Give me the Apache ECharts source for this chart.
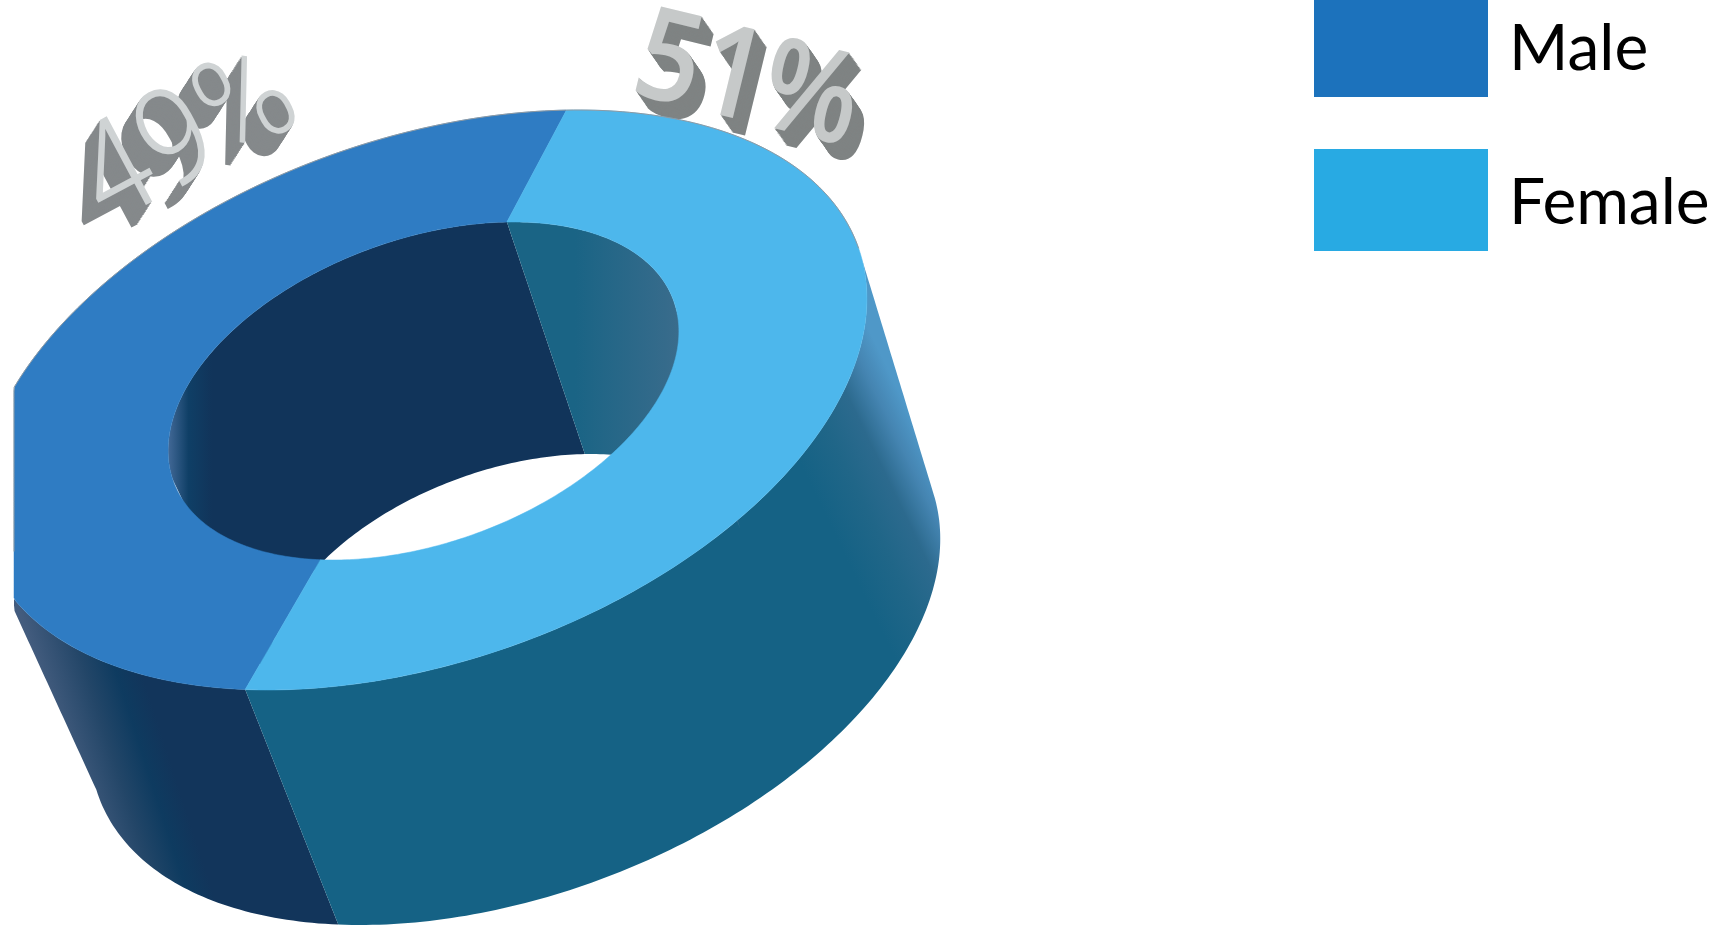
<!DOCTYPE html>
<html>
<head>
<meta charset="utf-8">
<style>html,body{margin:0;padding:0;background:#fff}#chart{width:1721px;height:929px}</style>
<script src="https://cdn.jsdelivr.net/npm/echarts@6/dist/echarts.min.js"></script>
</head>
<body>
<div id="chart"></div>
<script>
// Gender split, in percent
const genders = ['Male', 'Female'];
const shares = [49, 51];
const legendColors = ['#1c72bc', '#28aae3'];
const faceColors = ['#2f7cc3', '#4db7ec'];

// Ellipses of the tilted ring: centre, axis towards angle 0, axis towards angle 90
const outerTop = { c: [423, 400], u: [155, -290], v: [416, 0] };
const outerBottom = { c: [515, 642], u: [155, -283], v: [396, 0] };
const innerTop = { c: [423.5, 391], u: [90, -169], v: [239, 0] };
const innerBottom = { c: [507, 611], u: [84, -157], v: [222, 0] };
// Angles where the walls turn out of sight, and the perspective squeeze of the ring
const silhouette = [58.5, 238.5];
const squeeze = 0.99, squeezeAxis = -90;
const startAngle = -1;
const leftCut = 14;

const rad = Math.PI / 180;
const perspective = a => {
  const rel = a - squeezeAxis;
  const turns = Math.round(rel / 360);
  return squeezeAxis + turns * 360 + 2 * Math.atan(squeeze * Math.tan((rel - turns * 360) / 2 * rad)) / rad;
};
// Slice limits on the ring, clockwise from the seam; Female comes first
const sliceRange = i => {
  const before = i === 1 ? 0 : shares[1];
  const a0 = startAngle + before * 3.6;
  return [perspective(a0), perspective(a0 + shares[i] * 3.6)];
};
const ringPoint = (ring, deg) => {
  const a = deg * rad;
  return [ring.c[0] + ring.u[0] * Math.cos(a) + ring.v[0] * Math.sin(a),
          ring.c[1] + ring.u[1] * Math.cos(a) + ring.v[1] * Math.sin(a)];
};
const toPixel = (p, api) => api.coord([Math.max(p[0], leftCut), p[1]]);
const arc = (ring, a0, a1, api) => {
  const pts = [], n = Math.max(2, Math.ceil(Math.abs(a1 - a0)));
  for (let k = 0; k <= n; k++) pts.push(toPixel(ringPoint(ring, a0 + (a1 - a0) * k / n), api));
  return pts;
};
// Wall between two ellipses; the end edges are subdivided so the left cut stays straight
const wall = (upper, lower, a0, a1, api) => {
  const edge = (deg, from, to) => {
    const p = ringPoint(from, deg), q = ringPoint(to, deg), pts = [];
    for (let k = 1; k < 40; k++) pts.push(toPixel([p[0] + (q[0] - p[0]) * k / 40, p[1] + (q[1] - p[1]) * k / 40], api));
    return pts;
  };
  return arc(upper, a0, a1, api).concat(edge(a1, upper, lower), arc(lower, a1, a0, api), edge(a0, lower, upper));
};
const overlap = (a, b, lo, hi) => {
  const s = Math.max(a, lo), e = Math.min(b, hi);
  return e > s ? [s, e] : null;
};
const gradient = (api, from, to, stops) => {
  const p = api.coord(from), q = api.coord(to);
  return new echarts.graphic.LinearGradient(p[0], p[1], q[0], q[1],
    stops.map(s => ({ offset: s[0], color: s[1] })), true);
};
// Wall shading, light at the turning edge and flat elsewhere
const outerWallFill = (i, api) => i === 1
  ? gradient(api, [468, -227], [576, -279], [[0, '#156285'], [0.33, '#206688'], [0.6, '#2c6a8e'], [0.82, '#4585b2'], [1, '#4f98c8']])
  : gradient(api, [32, 650], [125, 620], [[0, '#435c7e'], [0.45, '#234668'], [0.75, '#0e3b60'], [1, '#12355b']]);
const innerWallFill = (i, api) => i === 1
  ? gradient(api, [575, 0], [680, 0], [[0, '#1a6485'], [1, '#3a6c8c']])
  : gradient(api, [165, 0], [212, 0], [[0, '#4a6f9e'], [0.5, '#0f3f66'], [1, '#11345a']]);

// Raised percent labels: a stack of shifted copies behind a lighter face
const labelStyle = [
  { x: 190, y: 143, rotation: 0.49, scaleX: 0.9, depth: [-26, 13], side: '#85898b', face: '#cfd3d4', font: '300 136px Roboto' },
  { x: 747, y: 84, rotation: -0.24, scaleX: 0.88, depth: [18, 14], side: '#7f8383', face: '#c6c9c9', font: '600 128px "Open Sans"' }
];
const labelParts = i => {
  const s = labelStyle[i], parts = [], steps = 14;
  const base = { text: shares[i] + '%', font: s.font, align: 'center', verticalAlign: 'middle' };
  for (let k = steps; k >= 0; k--) {
    parts.push({
      type: 'text', x: s.depth[0] * k / steps, y: s.depth[1] * k / steps,
      style: Object.assign({}, base, { fill: k === 0 ? s.face : s.side })
    });
  }
  return { type: 'group', x: s.x, y: s.y, rotation: s.rotation, scaleX: s.scaleX, scaleY: 1, z2: 5, children: parts };
};

const renderSlice = (params, api) => {
  const i = params.seriesIndex;
  const [a0, a1] = sliceRange(i);
  const children = [];
  const front = overlap(a0, a1, silhouette[0], silhouette[1]);
  if (front) {
    children.push({ type: 'polygon', z2: 1, shape: { points: wall(outerTop, outerBottom, front[0], front[1], api) }, style: { fill: outerWallFill(i, api) } });
  }
  const back = overlap(a0, a1, silhouette[1] - 360, silhouette[0]) || overlap(a0, a1, silhouette[1], silhouette[0] + 360);
  if (back) {
    children.push({ type: 'polygon', z2: 1, shape: { points: wall(innerTop, innerBottom, back[0], back[1], api) }, style: { fill: innerWallFill(i, api) } });
    children.push({ type: 'polyline', z2: 3, shape: { points: arc(outerTop, back[0], back[1], api) }, style: { fill: null, stroke: '#8f9aa3', lineWidth: 1 } });
  }
  const ring = arc(outerTop, a0, a1, api).concat(arc(innerTop, a1, a0, api));
  children.push({ type: 'polygon', z2: 2, shape: { points: ring }, style: { fill: faceColors[i], stroke: faceColors[i], lineWidth: 0.5 } });
  children.push(labelParts(i));
  return { type: 'group', children };
};

const chart = echarts.init(document.getElementById('chart'));
chart.setOption({
  animation: false,
  backgroundColor: '#ffffff',
  grid: { left: 0, right: 0, top: 0, bottom: 0 },
  xAxis: { type: 'value', min: 0, max: 1721, show: false },
  yAxis: { type: 'value', min: 0, max: 929, inverse: true, show: false },
  legend: {
    orient: 'vertical', left: 1314, top: -5, padding: 0, itemGap: 52, itemWidth: 174, itemHeight: 102,
    selectedMode: false,
    formatter: '{t|{name}}',
    textStyle: { rich: { t: { fontFamily: 'Lato', fontSize: 64, color: '#000000', padding: [7, 0, 0, 16] } } },
    data: genders.map((name, i) => ({ name, icon: 'rect', itemStyle: { color: legendColors[i] } }))
  },
  series: genders.map((name, i) => ({
    name, type: 'custom', coordinateSystem: 'cartesian2d', clip: false, silent: true,
    renderItem: renderSlice,
    encode: { x: 0, y: 1 },
    itemStyle: { color: legendColors[i] },
    data: [[shares[i], 0]]
  }))
});
</script>
</body>
</html>
